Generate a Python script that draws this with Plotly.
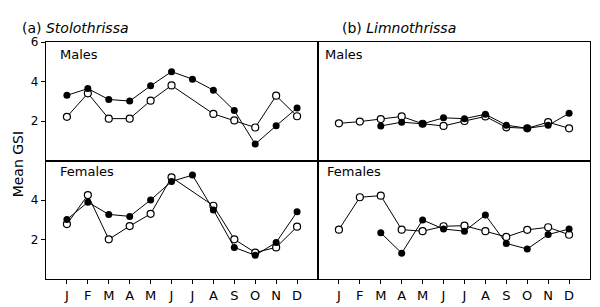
import plotly.graph_objects as go
from plotly.subplots import make_subplots

months = [1, 2, 3, 4, 5, 6, 7, 8, 9, 10, 11, 12]
month_labels = ["J", "F", "M", "A", "M", "J", "J", "A", "S", "O", "N", "D"]

# (a) Stolothrissa
stolo_male_filled = [3.30, 3.64, 3.09, 3.01, 3.78, 4.50, 4.12, 3.56, 2.53, 0.83, 1.76, 2.66]
stolo_male_open = [2.21, 3.40, 2.12, 2.12, 3.03, 3.80, None, 2.36, 2.03, 1.67, 3.28, 2.24]
stolo_female_filled = [3.01, 3.89, 3.27, 3.17, 4.00, 4.94, 5.26, 3.50, 1.60, 1.20, 1.85, 3.40]
stolo_female_open = [2.78, 4.25, 2.01, 2.68, 3.30, 5.15, None, 3.71, 2.01, 1.34, 1.60, 2.65]

# (b) Limnothrissa
limno_male_filled = [None, None, 1.75, 1.94, 1.86, 2.16, 2.12, 2.34, 1.79, 1.63, 1.78, 2.39]
limno_male_open = [1.88, 1.97, 2.10, 2.23, 1.86, 1.75, 2.00, 2.23, 1.68, 1.63, 1.94, 1.63]
limno_female_filled = [None, None, 2.34, 1.31, 2.99, 2.53, 2.42, 3.24, 1.80, 1.52, 2.25, 2.53]
limno_female_open = [2.50, 4.14, 4.22, 2.50, 2.42, 2.67, 2.70, 2.42, 2.13, 2.49, 2.62, 2.24]

FONT = "DejaVu Sans"

fig = make_subplots(rows=2, cols=2, horizontal_spacing=0, vertical_spacing=0)

panels = [
    (1, 1, stolo_male_open, stolo_male_filled),
    (1, 2, limno_male_open, limno_male_filled),
    (2, 1, stolo_female_open, stolo_female_filled),
    (2, 2, limno_female_open, limno_female_filled),
]

for r, c, op, fi in panels:
    fig.add_trace(go.Scatter(
        x=months, y=op, mode="lines+markers", connectgaps=True,
        line=dict(color="black", width=1),
        marker=dict(symbol="circle", size=7, color="white",
                    line=dict(color="black", width=1.2)),
        showlegend=False), row=r, col=c)
    fig.add_trace(go.Scatter(
        x=months, y=fi, mode="lines+markers", connectgaps=True,
        line=dict(color="black", width=1),
        marker=dict(symbol="circle", size=7, color="black"),
        showlegend=False), row=r, col=c)

axis_common = dict(showline=True, linecolor="black", linewidth=1.2, mirror=True,
                   showgrid=False, zeroline=False)

for r in (1, 2):
    for c in (1, 2):
        xa = dict(axis_common, range=[0, 13])
        if r == 2:
            xa.update(tickvals=months, ticktext=month_labels, ticks="outside",
                      ticklen=4, tickwidth=1, tickcolor="black",
                      tickfont=dict(family=FONT, size=13, color="black"))
        else:
            xa.update(showticklabels=False, ticks="")
        fig.update_xaxes(row=r, col=c, **xa)

        ya = dict(axis_common, range=[0, 6])
        if c == 1:
            ya.update(tickvals=[2, 4, 6] if r == 1 else [2, 4], ticks="outside",
                      ticklen=4, tickwidth=1, tickcolor="black",
                      tickfont=dict(family=FONT, size=12, color="black"))
        else:
            ya.update(showticklabels=False, ticks="")
        fig.update_yaxes(row=r, col=c, **ya)

L, R, T, B = 38, 18, 34, 25
W, H = 600, 307
pw, ph = W - L - R, H - T - B

def px(x):
    return (x - L) / pw

def py(y):
    return (H - B - y) / ph

annots = [
    ("Males", 50, 47), ("Females", 50, 170),
    ("Males", 315, 47), ("Females", 317, 170),
]
for text, x, y in annots:
    fig.add_annotation(text=text, x=px(x), y=py(y), xref="paper", yref="paper",
                       xanchor="left", yanchor="middle", showarrow=False,
                       font=dict(family=FONT, size=13, color="black"))

fig.add_annotation(text="(a) <i>Stolothrissa</i>", x=px(12), y=py(19), xref="paper",
                   yref="paper", xanchor="left", yanchor="middle", showarrow=False,
                   font=dict(family=FONT, size=14, color="black"))
fig.add_annotation(text="(b) <i>Limnothrissa</i>", x=px(332), y=py(19), xref="paper",
                   yref="paper", xanchor="left", yanchor="middle", showarrow=False,
                   font=dict(family=FONT, size=14, color="black"))
fig.add_annotation(text="Mean GSI", x=px(10), y=py(162), xref="paper", yref="paper",
                   xanchor="center", yanchor="middle", showarrow=False, textangle=-90,
                   font=dict(family=FONT, size=14, color="black"))

fig.update_layout(width=W, height=H, margin=dict(l=L, r=R, t=T, b=B),
                  paper_bgcolor="white", plot_bgcolor="white")

fig.write_html("out.html")
